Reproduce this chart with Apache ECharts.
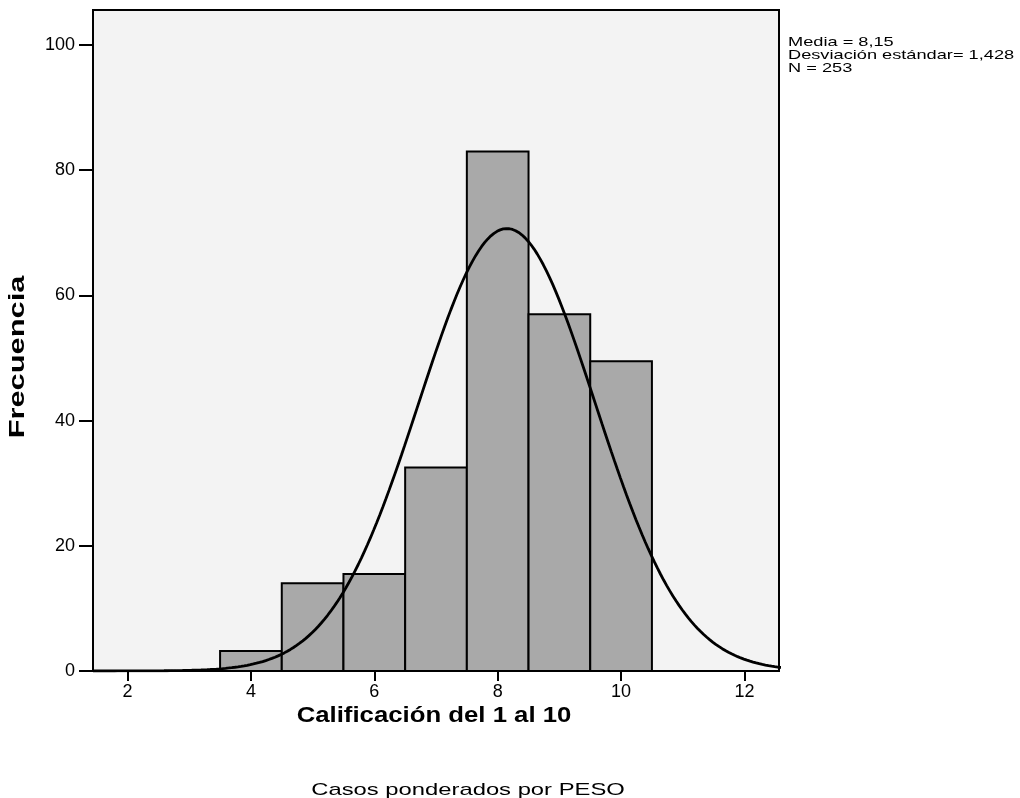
<!DOCTYPE html>
<html><head><meta charset="utf-8">
<script src="https://cdn.jsdelivr.net/npm/echarts@6/dist/echarts.min.js"></script>
<style>html,body{margin:0;padding:0;background:#fff}#c{width:1020px;height:798px}</style>
</head><body><div id="c"></div>
<script>
// Histogram bins (centers) and weighted frequencies
var binCenters = [4, 5, 6, 7, 8, 9, 10];
var frequencies = [3.2, 14, 15.5, 32.5, 83, 57, 49.5];
var xTicks = [2, 4, 6, 8, 10, 12];
var yTicks = [0, 20, 40, 60, 80, 100];
// Stats shown on the chart
var media = 8.15, sd = 1.428, n = 253;

// Fitted normal curve from the displayed statistics (bin width 1)
var curve = [];
for (var i = 0; i <= 224; i++) {
  var x = 1.44 + i * 0.05;
  var z = (x - media) / sd;
  curve.push([x, n / (sd * Math.sqrt(2 * Math.PI)) * Math.exp(-0.5 * z * z)]);
}
var bars = binCenters.map(function (c, i) { return [c, frequencies[i]]; });

var chart = echarts.init(document.getElementById('c'));
var font = 'Liberation Sans, Arial, sans-serif';
chart.setOption({
  animation: false,
  grid: { left: 93, right: 241, top: 10, bottom: 127, show: true, backgroundColor: '#f3f3f3', borderColor: '#000', borderWidth: 2 },
  xAxis: {
    type: 'value', min: 1.44, max: 12.56,
    splitLine: { show: false },
    axisLine: { lineStyle: { color: '#000', width: 2 } },
    axisTick: { show: true, length: 10, lineStyle: { color: '#000', width: 2 }, customValues: xTicks },
    axisLabel: { customValues: xTicks, color: '#000', fontSize: 18, fontFamily: font, margin: 12 }
  },
  yAxis: {
    type: 'value', min: 0, max: 105.6,
    splitLine: { show: false },
    axisLine: { show: true, lineStyle: { color: '#000', width: 2 } },
    axisTick: { show: true, length: 14, lineStyle: { color: '#000', width: 2 }, customValues: yTicks },
    axisLabel: { customValues: yTicks, color: '#000', fontSize: 18, fontFamily: font, margin: 18 }
  },
  graphic: [
    { type: 'text', x: 788, y: 36, scaleX: 1.4, style: { text: 'Media = 8,15\nDesviación estándar= 1,428\nN = 253', fill: '#000', font: '13px ' + font, lineHeight: 13 } },
    { type: 'text', x: 18, y: 357, rotation: Math.PI / 2, scaleX: 1.4, style: { text: 'Frecuencia', fill: '#000', font: 'bold 22px ' + font, align: 'center', verticalAlign: 'middle' } },
    { type: 'text', x: 434, y: 716, scaleX: 1.17, style: { text: 'Calificación del 1 al 10', fill: '#000', font: 'bold 22px ' + font, align: 'center', verticalAlign: 'middle' } },
    { type: 'text', x: 468, y: 790, scaleX: 1.4, style: { text: 'Casos ponderados por PESO', fill: '#000', font: '17px ' + font, align: 'center', verticalAlign: 'middle' } }
  ],
  series: [
    {
      type: 'custom',
      data: bars,
      renderItem: function (params, api) {
        var p1 = api.coord([api.value(0) - 0.5, api.value(1)]);
        var p2 = api.coord([api.value(0) + 0.5, 0]);
        return { type: 'rect', shape: { x: p1[0], y: p1[1], width: p2[0] - p1[0], height: p2[1] - p1[1] },
          style: { fill: '#a9a9a9', stroke: '#000', lineWidth: 2 } };
      },
      z: 2
    },
    {
      type: 'line', data: curve, showSymbol: false, smooth: false,
      lineStyle: { color: '#000', width: 2.8 }, z: 3
    }
  ]
});
</script></body></html>
